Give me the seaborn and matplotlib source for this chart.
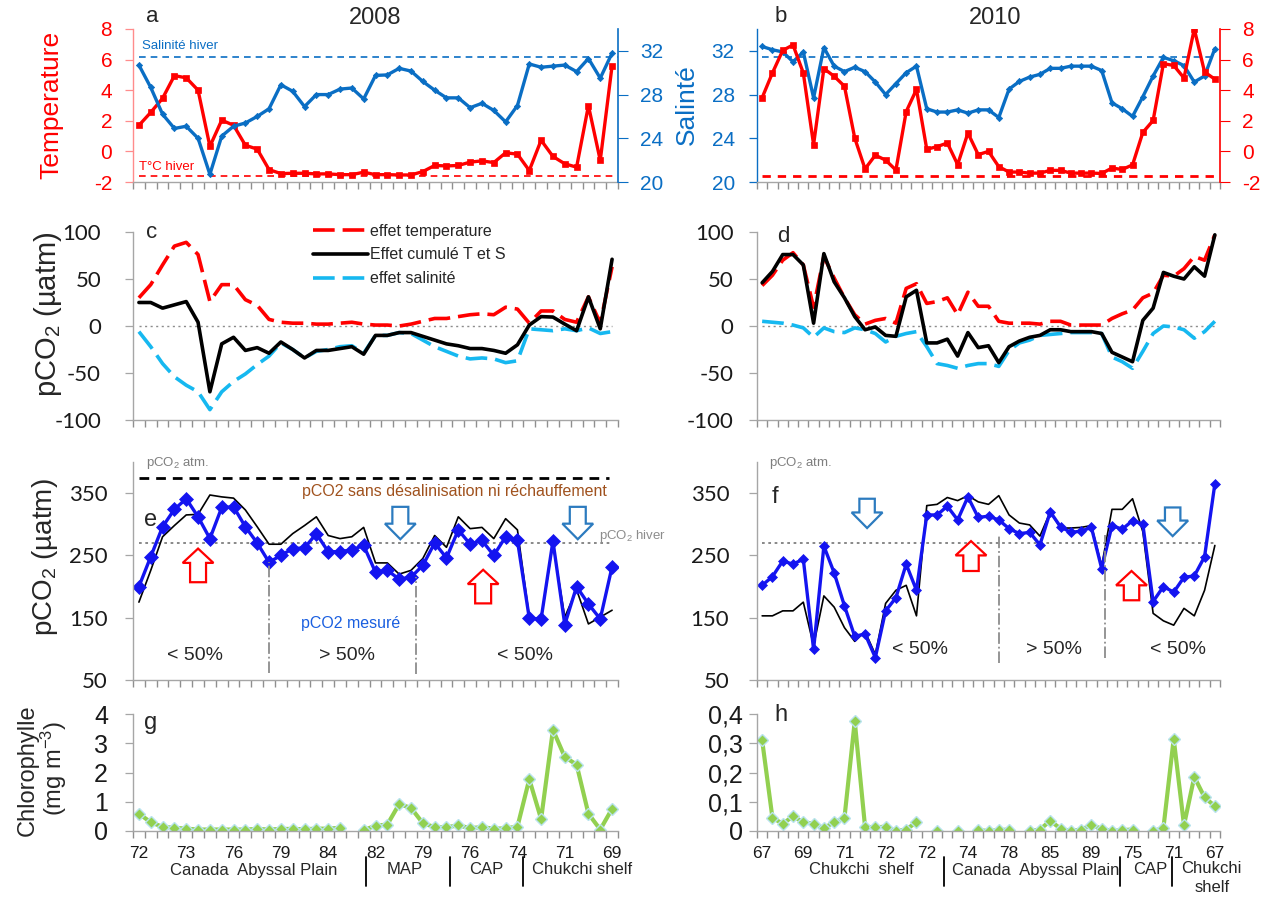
import numpy as np
import pandas as pd
import matplotlib
matplotlib.use("Agg")
import matplotlib.pyplot as plt
from matplotlib.patches import FancyArrow
from matplotlib.transforms import blended_transform_factory
import seaborn as sns

# ---- surface temperature (°C) and salinity along the two transects ----
temp_2008 = [1.7, 2.55, 3.47, 4.95, 4.81, 4.0, 0.33, 2.04, 1.71, 0.4,
             0.15, -1.19, -1.45, -1.43, -1.43, -1.47, -1.47, -1.52, -1.52, -1.36,
             -1.52, -1.52, -1.54, -1.54, -1.32, -0.92, -0.95, -0.92, -0.70, -0.62,
             -0.73, -0.09, -0.18, -1.25, 0.73, -0.33, -0.81, -1.03, 2.99, -0.59,
             5.6]
sal_2008 = [30.7, 28.65, 26.2, 24.9, 25.1, 24.0, 20.7, 24.2, 25.1, 25.4,
            26.0, 26.7, 28.9, 28.3, 26.9, 28.0, 28.0, 28.5, 28.6, 27.6,
            29.75, 29.8, 30.4, 30.15, 29.2, 28.4, 27.7, 27.7, 26.8, 27.2,
            26.55, 25.5, 27.0, 30.8, 30.5, 30.6, 30.7, 30.1, 31.3, 29.5,
            31.8]
temp_2010 = [3.51, 5.13, 6.6, 6.96, 5.13, 0.44, 5.41, 4.91, 4.26, 0.87,
             -1.14, -0.25, -0.57, -1.22, 2.6, 4.05, 0.14, 0.31, 0.55, -0.86,
             1.2, -0.21, 0.0, -1.0, -1.35, -1.35, -1.42, -1.42, -1.24, -1.24,
             -1.42, -1.42, -1.42, -1.44, -1.09, -1.18, -0.88, 1.24, 2.02, 5.73,
             5.62, 4.8, 8.0, 5.19, 4.72]
sal_2010 = [32.4, 32.1, 31.9, 31.0, 31.9, 27.7, 32.3, 30.6, 30.1, 30.5,
            30.1, 29.15, 28.0, 29.0, 30.0, 30.6, 26.7, 26.4, 26.4, 26.6,
            26.3, 26.6, 26.6, 25.9, 28.5, 29.2, 29.6, 29.85, 30.4, 30.4,
            30.6, 30.6, 30.6, 30.2, 27.25, 26.7, 26.0, 27.8, 29.7, 31.4,
            31.1, 30.65, 29.15, 29.7, 32.2]
temp_winter = -1.6
sal_winter = 31.4

# ---- pCO2 change (µatm) due to warming, freshening and both ----
eff_temp_2008 = [30, 44, 65, 85, 89, 76, 26, 44, 44, 28,
                 22, 7, 4, 3, 3, 2, 2, 3, 4, 2,
                 1, 1, 0, 2, 5, 8, 8, 10, 12, 13,
                 12, 20, 18, 3, 16, 16, 7, 4, 31, 3,
                 63]
eff_cum_2008 = [25, 25, 19, 22.5, 26, 4, -70, -19, -12, -26,
                -23, -29, -17, -25, -34, -26, -26, -24, -22, -30,
                -10, -10, -7, -7, -11, -15, -19, -21, -24, -24,
                -26, -29, -20, 1, 10, 9.5, 2, -5, 31, -3,
                71]
eff_sal_2008 = [-6, -22, -40, -54, -63, -70, -89, -70, -59, -51,
                -41, -32, -18, -25, -34, -27, -25, -22, -21, -29,
                -10, -10, -7, -8, -15, -22, -27, -32, -35, -34,
                -35, -39, -37, -3, -4, -5, -3, -5, -2, -8,
                -6]
eff_temp_2010 = [43, 54, 70, 78, 65, 20, 74, 51, 30, 12,
                 2, 6, 8, 3, 40, 45, 24, 26, 30, 12,
                 36, 21, 21, 5, 3, 3, 3, 2, 5, 5,
                 1, 1, 1, 1, 8, 13, 17, 30, 35, 54,
                 53, 61, 74, 70, 97]
eff_cum_2010 = [46, 58, 76, 76, 65, 3, 77, 47, 30, 10,
                -4, -1, -10, -11, 31, 38, -18, -18, -14, -32,
                -7, -23, -21, -39, -22, -16, -12, -10, -4, -4,
                -6, -6, -6, -8, -28, -33, -38, 6, 19, 57,
                53, 50, 63, 53, 97]
eff_sal_2010 = [5, 4, 3, 1, -2, -12, -2, -6, -7, -2,
                -4, -8, -17, -11, -8, -6, -22, -40, -42, -45,
                -42, -40, -40, -43, -26, -18, -15, -10, -9, -8,
                -7, -7, -7, -8, -33, -38, -45, -27, -8, 0,
                -1, -4, -13, -6, 5]

# ---- measured pCO2 and pCO2 without freshening nor warming (µatm) ----
pco2_meas_2008 = [200, 248, 296, 324, 341, 312, 277, 327, 328, 296,
                  270, 239, 250, 261, 262, 285, 256, 256, 259, 266,
                  223, 226, 212, 215, 234, 270, 246, 291, 268, 274,
                  250, 280, 274, 149, 148, 273, 139, 200, 172, 148,
                  232]
pco2_ref_2008 = [175, 226, 280, 298, 315, 316, 347, 344, 342, 323,
                 296, 268, 268, 285, 298, 312, 282, 277, 280, 295,
                 238, 238, 220, 226, 245, 282, 263, 312, 293, 295,
                 277, 309, 291, 151, 148, 269, 151, 195, 140, 151,
                 162]
pco2_meas_2010 = [202, 216, 241, 236, 244, 99, 265, 222, 169, 120,
                  124, 86, 161, 182, 236, 194, 315, 315, 329, 307,
                  344, 311, 313, 307, 293, 285, 287, 267, 320, 296,
                  287, 289, 295, 229, 298, 292, 306, 300, 176, 200,
                  191, 215, 217, 248, 365]
pco2_ref_2010 = [153, 153, 161, 161, 175, 105, 185, 167, 134, 112,
                 128, 91, 173, 194, 202, 153, 330, 332, 343, 338,
                 346, 336, 332, 346, 315, 302, 299, 281, 320, 294,
                 294, 295, 298, 233, 324, 324, 341, 288, 157, 145,
                 138, 165, 153, 194, 266]
pco2_atm = 375
pco2_winter = 270

# ---- chlorophyll (mg m-3); NaN = no sample ----
nan = np.nan
chl_2008 = [0.59, 0.30, 0.14, 0.11, 0.08, 0.05, 0.05, 0.05, 0.05, 0.05,
            0.07, 0.05, 0.07, 0.07, 0.06, 0.08, 0.08, 0.11, nan, 0.03,
            0.18, 0.22, 0.92, 0.79, 0.27, 0.13, 0.13, 0.19, 0.10, 0.13,
            0.08, 0.09, 0.15, 1.77, 0.41, 3.46, 2.53, 2.27, 0.59, 0.05,
            0.76]
chl_2010 = [0.31, 0.045, 0.025, 0.05, 0.03, 0.025, 0.01, 0.03, 0.045, 0.375,
            0.015, 0.012, 0.015, 0.0, 0.005, 0.03, nan, 0.0, nan, 0.0,
            nan, 0.003, 0.0, 0.003, 0.005, nan, 0.0, 0.005, 0.035, 0.008,
            0.0, 0.005, 0.02, 0.008, 0.0, 0.003, 0.005, nan, 0.0, 0.01,
            0.315, 0.02, 0.185, 0.115, 0.085]

lat_labels_2008 = ["72", "73", "76", "79", "84", "82", "79", "76", "74", "71", "69"]
lat_labels_2010 = ["67", "69", "71", "72", "72", "74", "78", "85", "89", "75", "71", "67"]
regions_2008 = ["Canada  Abyssal Plain", "MAP", "CAP", "Chukchi shelf"]
regions_2010 = ["Chukchi  shelf", "Canada  Abyssal Plain", "CAP", "Chukchi\nshelf"]

# ---------------------------------------------------------------------------
sns.set_theme(style="white")
plt.rcParams["font.family"] = ["Liberation Sans", "DejaVu Sans"]
plt.rcParams["mathtext.fontset"] = "custom"
plt.rcParams["mathtext.rm"] = "Liberation Sans"
plt.rcParams["mathtext.it"] = "Liberation Sans"
plt.rcParams["mathtext.bf"] = "Liberation Sans:bold"
plt.rcParams["mathtext.default"] = "regular"
plt.rcParams["axes.unicode_minus"] = False

RED = "#ff0000"
SAL_BLUE = "#0a6ec4"
PCO2_BLUE = "#1414f0"
CYAN = "#16b8f0"
GREEN = "#92d050"
GREEN_EDGE = "#b9e3ee"
GREY = "#a6a6a6"
TICK_GREY = "#8f8f8f"
ARROW_BLUE = "#2c7bbf"
TICK_FONT = "Lato"

W, H = 1262, 899
fig = plt.figure(figsize=(W / 100, H / 100), dpi=100)


def px_axes(x0, y0, x1, y1):
    return fig.add_axes([x0 / W, 1 - y1 / H, (x1 - x0) / W, (y1 - y0) / H])


def ftext(x, y, s, **kw):
    fig.text(x / W, 1 - y / H, s, **kw)


def line(ax, y, **kw):
    """Draw one series with seaborn; missing stations break the line."""
    df = pd.DataFrame({"station": np.arange(len(y)), "value": y})
    ok = df["value"].notna()
    run = (~ok).cumsum()
    for _, seg in df[ok].groupby(run[ok]):
        sns.lineplot(data=seg, x="station", y="value", ax=ax, errorbar=None, **kw)
    ax.set_xlabel("")
    ax.set_ylabel("")
    if ax.get_legend() is not None:
        ax.get_legend().remove()


def frame(ax, n, left_color=GREY):
    ax.set_xlim(-0.5, n - 0.5)
    ax.set_facecolor("none")
    for side in ("top", "right"):
        ax.spines[side].set_visible(False)
    ax.spines["left"].set_color(left_color)
    ax.spines["bottom"].set_color(GREY)
    ax.spines["left"].set_linewidth(1.0)
    ax.spines["bottom"].set_linewidth(1.0)
    ax.set_xticks([])
    ax.set_xticks(np.arange(n + 1) - 0.5, minor=True)
    ax.tick_params(axis="x", which="minor", bottom=True, length=5, width=1.0,
                   color=TICK_GREY, direction="out")
    ax.tick_params(axis="y", which="major", left=True, length=6, width=0.9,
                   color=left_color, direction="out")
    ax.grid(False)


def block_arrow(ax, x, y0, y1, color, head_w, shaft_w, head_l):
    ax.add_patch(FancyArrow(x, y0, 0, y1 - y0, width=shaft_w, head_width=head_w,
                            head_length=head_l, length_includes_head=True,
                            facecolor="white", edgecolor=color, linewidth=1.6,
                            zorder=6, clip_on=False))


LEFT, RIGHT = (133, 618), (757, 1220)
ROW_TS, ROW_EFF, ROW_PCO2, ROW_CHL = (29, 182), (232, 420), (462, 680), (714, 831)
N08, N10 = len(temp_2008), len(temp_2010)

# ======================= a / b : temperature & salinity =====================
temp_ticks = [-2, 0, 2, 4, 6, 8]
sal_ticks = [20, 24, 28, 32]

ax_a = px_axes(LEFT[0], ROW_TS[0], LEFT[1], ROW_TS[1])
ax_a2 = ax_a.twinx()
line(ax_a, temp_2008, color=RED, linewidth=2.4, marker="s", markersize=4.5,
     markeredgecolor=RED, markeredgewidth=0.5)
line(ax_a2, sal_2008, color=SAL_BLUE, linewidth=2.4, marker="D", markersize=3.2,
     markeredgecolor=SAL_BLUE, markeredgewidth=0.5)
frame(ax_a, N08, left_color="#ff8c8c")
ax_a.hlines(temp_winter, 0, N08 - 0.6, colors=RED, linestyles=(0, (4, 3)), linewidth=1.2)
ax_a2.hlines(sal_winter, 0, N08 - 0.5, colors=SAL_BLUE, linestyles=(0, (4, 3)), linewidth=1.2)
ax_a.set_ylim(-2, 8)
ax_a.set_yticks(temp_ticks, labels=[str(t) for t in temp_ticks], fontsize=15, color=RED)
ax_a.tick_params(axis="y", pad=9)
ax_a2.set_ylim(20, 34)
ax_a2.set_xlim(-0.5, N08 - 0.5)
for side in ("top", "left", "bottom"):
    ax_a2.spines[side].set_visible(False)
ax_a2.spines["right"].set_color(SAL_BLUE)
ax_a2.spines["right"].set_linewidth(1.2)
ax_a2.set_yticks(sal_ticks, labels=[str(t) for t in sal_ticks], fontsize=15, color=SAL_BLUE)
ax_a2.tick_params(axis="y", right=True, left=False, labelright=True, labelleft=False,
                  length=7, width=0.8, color=SAL_BLUE, direction="out", pad=9)
ax_a.text(0.3, 31.9, "Salinité hiver", transform=ax_a2.transData, color=SAL_BLUE,
          fontsize=9.5, va="bottom", ha="left")
ax_a.text(0.0, temp_winter + 0.2, "T°C hiver", color=RED, fontsize=9.5, va="bottom", ha="left")

ax_b = px_axes(RIGHT[0], ROW_TS[0], RIGHT[1], ROW_TS[1])
ax_b2 = ax_b.twinx()
line(ax_b, sal_2010, color=SAL_BLUE, linewidth=2.4, marker="D", markersize=3.2,
     markeredgecolor=SAL_BLUE, markeredgewidth=0.5)
line(ax_b2, temp_2010, color=RED, linewidth=2.4, marker="s", markersize=4.5,
     markeredgecolor=RED, markeredgewidth=0.5)
frame(ax_b, N10, left_color=SAL_BLUE)
ax_b.hlines(sal_winter, 0, N10 - 1, colors=SAL_BLUE, linestyles=(0, (4, 3)), linewidth=1.2)
ax_b2.hlines(temp_winter, 0, N10 - 1, colors=RED, linestyles=(0, (3, 2.5)), linewidth=2.0)
ax_b.set_ylim(20, 34)
ax_b.set_yticks(sal_ticks, labels=[str(t) for t in sal_ticks], fontsize=15, color=SAL_BLUE)
ax_b.tick_params(axis="y", pad=10)
ax_b2.set_ylim(-2, 8)
ax_b2.set_xlim(-0.5, N10 - 0.5)
for side in ("top", "left", "bottom"):
    ax_b2.spines[side].set_visible(False)
ax_b2.spines["right"].set_color(RED)
ax_b2.spines["right"].set_linewidth(1.2)
ax_b2.set_yticks(temp_ticks, labels=[str(t) for t in temp_ticks], fontsize=15, color=RED)
ax_b2.tick_params(axis="y", right=True, left=False, labelright=True, labelleft=False,
                  length=7, width=0.8, color=RED, direction="out", pad=9)

ftext(51, 105, "Temperature", color=RED, fontsize=19, rotation=90, ha="center", va="center")
ftext(687, 105, "Salinté", color=SAL_BLUE, fontsize=19, rotation=90, ha="center", va="center")
ftext(375, 18, "2008", fontsize=17, ha="center", va="center")
ftext(995, 18, "2010", fontsize=17, ha="center", va="center")
ftext(152, 16, "a", fontsize=16, ha="center", va="center")
ftext(781, 16, "b", fontsize=16, ha="center", va="center")

# ======================= c / d : temperature & salinity effects =============
eff_ticks = [-100, -50, 0, 50, 100]
dash = (0, (6, 2.2))


def effect_panel(ax, t_eff, cum_eff, s_eff, n, pad):
    line(ax, s_eff, color=CYAN, linewidth=2.6, linestyle=dash, label="effet salinité")
    line(ax, t_eff, color=RED, linewidth=2.6, linestyle=dash, label="effet temperature")
    line(ax, cum_eff, color="black", linewidth=2.6, label="Effet cumulé T et S")
    frame(ax, n)
    ax.hlines(0, 0, n - 1, colors="#8c8c8c", linestyles=(0, (1.5, 2.5)), linewidth=1.0, zorder=0)
    ax.set_ylim(-100, 100)
    ax.set_yticks(eff_ticks, labels=[str(t) for t in eff_ticks], fontsize=16,
                  fontfamily=TICK_FONT, color="#1a1a1a")
    ax.tick_params(axis="y", pad=pad)


ax_c = px_axes(LEFT[0], ROW_EFF[0], LEFT[1], ROW_EFF[1])
effect_panel(ax_c, eff_temp_2008, eff_cum_2008, eff_sal_2008, N08, pad=17)
handles, labels = ax_c.get_legend_handles_labels()
order = [labels.index("effet temperature"), labels.index("Effet cumulé T et S"),
         labels.index("effet salinité")]
ax_c.legend([handles[i] for i in order], [labels[i] for i in order], loc="upper left",
            bbox_to_anchor=(0.372, 1.045), frameon=False, fontsize=11.5, handlelength=3.4,
            handletextpad=0.15, labelspacing=0.55, borderpad=0, borderaxespad=0)

ax_d = px_axes(RIGHT[0], ROW_EFF[0], RIGHT[1], ROW_EFF[1])
effect_panel(ax_d, eff_temp_2010, eff_cum_2010, eff_sal_2010, N10, pad=11)

ftext(48, 314, "pCO$_2$ (µatm)", fontsize=21, rotation=90, ha="center", va="center")
ftext(152, 232, "c", fontsize=16, ha="center", va="center")
ftext(783, 236, "d", fontsize=16, ha="center", va="center")

# ======================= e / f : pCO2 ========================================
pco2_ticks = [50, 150, 250, 350]


def pco2_panel(ax, meas, ref, n, marker_size, pad):
    ax.hlines(pco2_winter, 0, n - 1, colors="#7f7f7f", linestyles=(0, (1.5, 2)),
              linewidth=1.3, zorder=0)
    line(ax, ref, color="black", linewidth=1.2)
    line(ax, meas, color=PCO2_BLUE, linewidth=2.4, marker="D", markersize=marker_size,
         markeredgecolor=PCO2_BLUE, markeredgewidth=0.5)
    frame(ax, n)
    ax.set_ylim(50, 400)
    ax.set_yticks(pco2_ticks, labels=[str(t) for t in pco2_ticks], fontsize=16,
                  fontfamily=TICK_FONT, color="#1a1a1a")
    ax.tick_params(axis="y", pad=pad)


ax_e = px_axes(LEFT[0], ROW_PCO2[0], LEFT[1], ROW_PCO2[1])
pco2_panel(ax_e, pco2_meas_2008, pco2_ref_2008, N08, 7, pad=12)
ax_e.hlines(pco2_atm, 0, N08 - 1.3, colors="black", linestyles=(0, (3.5, 2.5)), linewidth=2.0)
ax_e.vlines(11.0, 62, 240, colors="#8c8c8c", linestyles="-.", linewidth=1.3)
ax_e.vlines(23.4, 60, 215, colors="#8c8c8c", linestyles="-.", linewidth=1.3)
ax_e.text(0.6, 399, "pCO$_2$ atm.", color="#7f7f7f", fontsize=9.5, ha="left", va="center")
ax_e.text(39.6, 353, "pCO2 sans désalinisation ni réchauffement", color="#a0521e",
          fontsize=11.5, ha="right", va="center")
ax_e.text(17.9, 141, "pCO2 mesuré", color="#1a5fe0", fontsize=11.5, ha="center", va="center")
ax_e.text(38.9, 281, "pCO$_2$ hiver", color="#8c8c8c", fontsize=9.5, ha="left",
          va="center", clip_on=False)
for xc, txt in [(4.7, "< 50%"), (17.6, "> 50%"), (32.6, "< 50%")]:
    ax_e.text(xc, 89, txt, fontsize=14, ha="center", va="center")
block_arrow(ax_e, 5.0, 207, 261, RED, 2.6, 1.35, 23)
block_arrow(ax_e, 29.1, 173, 227, RED, 2.6, 1.35, 23)
block_arrow(ax_e, 22.1, 328, 276, ARROW_BLUE, 2.6, 1.35, 25)
block_arrow(ax_e, 37.1, 328, 276, ARROW_BLUE, 2.6, 1.35, 25)

ax_f = px_axes(RIGHT[0], ROW_PCO2[0], RIGHT[1], ROW_PCO2[1])
pco2_panel(ax_f, pco2_meas_2010, pco2_ref_2010, N10, 5.5, pad=14)
ax_f.vlines(23.05, 78, 282, colors="#8c8c8c", linestyles="-.", linewidth=1.3)
ax_f.vlines(33.3, 86, 282, colors="#8c8c8c", linestyles="-.", linewidth=1.3)
ax_f.text(0.65, 399, "pCO$_2$ atm.", color="#7f7f7f", fontsize=9.5, ha="left", va="center")
for xc, txt in [(15.3, "< 50%"), (28.4, "> 50%"), (40.4, "< 50%")]:
    ax_f.text(xc, 99, txt, fontsize=14, ha="center", va="center")
block_arrow(ax_f, 10.2, 341, 294, ARROW_BLUE, 3.0, 1.5, 25)
block_arrow(ax_f, 39.9, 327, 281, ARROW_BLUE, 3.0, 1.5, 25)
block_arrow(ax_f, 20.3, 225, 273, RED, 3.0, 1.5, 23)
block_arrow(ax_f, 35.9, 178, 225, RED, 3.0, 1.5, 23)

ftext(45, 557, "pCO$_2$ (µatm)", fontsize=20, rotation=90, ha="center", va="center")
ftext(151, 520, "e", fontsize=17, ha="center", va="center")
ftext(775, 497, "f", fontsize=17, ha="center", va="center")

# ======================= g / h : chlorophyll ================================


def chl_panel(ax, values, n, ylim, ticks, tick_labels, lat_labels, pad):
    line(ax, values, color=GREEN, linewidth=3.0, marker="D", markersize=6.5,
         markerfacecolor=GREEN, markeredgecolor=GREEN_EDGE, markeredgewidth=1.0)
    frame(ax, n)
    ax.set_ylim(*ylim)
    ax.set_yticks(ticks, labels=tick_labels, fontsize=18, color="#1a1a1a")
    ax.tick_params(axis="y", pad=pad)
    ax.set_xticks(np.arange(0, n, 4), labels=lat_labels, fontsize=12.5, color="#1a1a1a")
    ax.tick_params(axis="x", which="major", length=0, pad=11)


def regions(ax, names, centers, separators):
    tr = blended_transform_factory(ax.transData, fig.transFigure)
    for name, xc in zip(names, centers):
        if "\n" in name:
            ax.text(xc, 1 - 861 / H, name, transform=tr, fontsize=12, ha="center",
                    va="top", linespacing=1.3)
        else:
            ax.text(xc, 1 - 870 / H, name, transform=tr, fontsize=12, ha="center",
                    va="center")
    for xs in separators:
        ax.plot([xs, xs], [1 - 857 / H, 1 - 886 / H], transform=tr, color="black",
                linewidth=1.3, clip_on=False)


ax_g = px_axes(LEFT[0], ROW_CHL[0], LEFT[1], ROW_CHL[1])
chl_panel(ax_g, chl_2008, N08, (0, 4), [0, 1, 2, 3, 4], ["0", "1", "2", "3", "4"],
          lat_labels_2008, pad=12)
regions(ax_g, regions_2008, [9.7, 22.5, 29.4, 37.5], [19.2, 26.3, 32.5])

ax_h = px_axes(RIGHT[0], ROW_CHL[0], RIGHT[1], ROW_CHL[1])
chl_panel(ax_h, chl_2010, N10, (0, 0.4), [0, 0.1, 0.2, 0.3, 0.4],
          ["0", "0,1", "0,2", "0,3", "0,4"], lat_labels_2010, pad=4)
regions(ax_h, regions_2010, [9.6, 26.6, 37.7, 43.7], [17.7, 34.8, 39.8])

ftext(28, 770, "Chlorophylle", fontsize=17, rotation=90, ha="center", va="center")
ftext(54, 768, "(mg m$^{-3}$)", fontsize=17, rotation=90, ha="center", va="center")
ftext(151, 723, "g", fontsize=17, ha="center", va="center")
ftext(781, 715, "h", fontsize=17, ha="center", va="center")

fig.savefig("out.png", dpi=100, facecolor="white")
